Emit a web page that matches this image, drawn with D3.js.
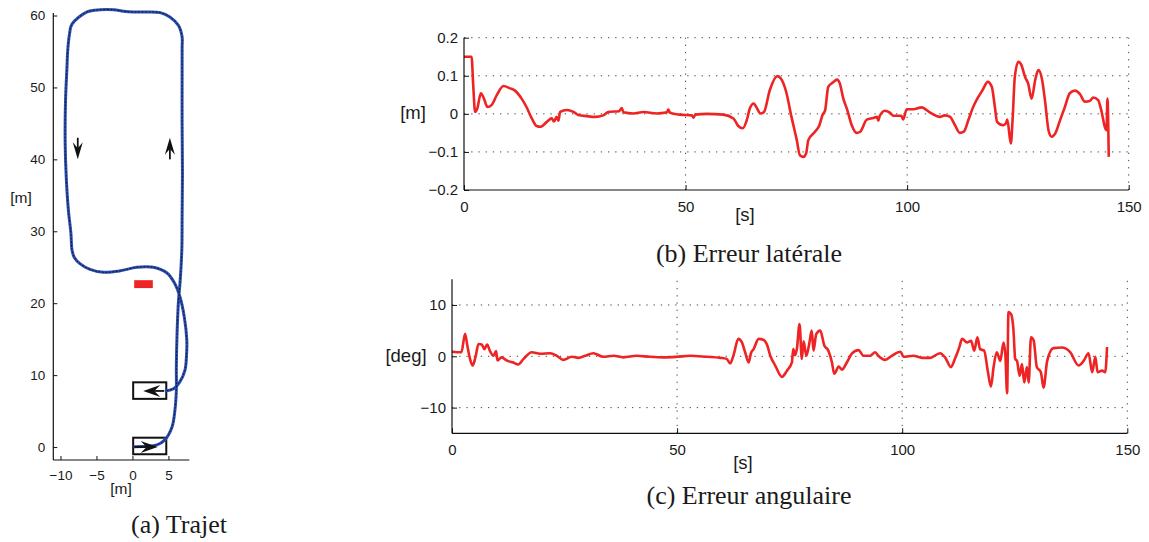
<!DOCTYPE html>
<html><head><meta charset="utf-8">
<script src="https://cdn.jsdelivr.net/npm/d3@7"></script>
<style>
html,body{margin:0;padding:0;background:#fff;}
svg{display:block;}
.tk{font-family:"Liberation Sans",Arial,sans-serif;fill:#1a1a1a;}
.cap{font-family:"Liberation Serif","Times New Roman",serif;fill:#1a1a1a;}
</style></head>
<body>
<svg id="c" width="1149" height="542"></svg>
<script>
// ---------- DATA ----------
// (a) trajectory [m]
const trajX = [0.14,3.4,4.5,5.5,5.9,6.1,6.1,6.2,6.4,6.6,6.86,6.9,6.95,6.9,6.9,6.9,6.9,6.4,5.2,3.85,2.0,0.1,-1.25,-2.6,-4.5,-6.3,-8.4,-8.75,-9.0,-9.1,-9.3,-9.35,-9.2,-8.9,-8.55,-8.4,-8.1,-7.3,-5.9,-4.0,-1.7,0.6,2.9,4.8,5.9,6.6,7.2,7.55,7.5,7.3,6.6,5.7,4.5];
const trajY = [0.05,0.3,1.0,2.8,5.1,7.9,11.2,15.8,20.4,22.7,27.4,32,38,45,52,55.6,57,58.6,59.8,60.4,60.5,60.5,60.6,60.8,60.8,60.5,58.8,57.4,55.1,52.8,48.2,42.2,37.5,32.9,29.7,27.4,26.4,25.5,24.7,24.3,24.5,25.0,25.0,24.2,22.7,20.9,18.1,14.9,12.5,10.7,9.1,8.1,7.8];
const trajXTicks = [-10,-5,0,5];
const trajYTicks = [0,10,20,30,40,50,60];
const boxes = [[0.1,-1.0,4.7,1.3],[0.1,6.7,4.7,9.0]];
const obstacle = [0.24,22.1,2.83,23.2];
// arrows: x0,y0,x1,y1 (tail -> tip)
const arrows = [[-7.6,43.0,-7.6,40.0],[5.2,40.0,5.2,43.0],[0.3,0,3.5,0],[4.4,7.8,1.5,7.8]];

// (b) lateral error [m] vs [s]
const latT = [0,1.7,2.1,2.5,3.0,3.8,4.5,5.3,6.2,7.4,8.9,10.4,11.5,13.0,14.1,15.3,16.4,17.3,18.7,19.8,20.3,20.9,21.3,21.7,23.2,24.7,25.8,27.7,29.6,31.4,32.6,35.0,35.6,36.0,38.2,40.5,43.5,45.8,46.1,46.5,48.7,51.4,51.8,52.2,54.8,58.5,60.8,61.9,62.9,63.8,64.5,65.4,66.0,66.9,67.7,69.0,70.7,71.5,72.7,73.9,75.1,75.8,76.6,77.2,77.7,79.2,80.2,80.9,81.5,82.2,83.2,84.2,84.8,85.6,86.5,87.5,88.6,89.4,90.9,92.4,93.2,93.5,93.8,95.0,96.1,96.9,98.7,99.1,99.9,101.4,103.3,104.4,105.5,107.4,108.5,109.7,110.8,111.9,112.8,113.8,114.9,116.0,117.0,118.2,119.1,119.8,120.3,121.7,122.3,122.6,123.4,123.8,124.3,125.1,125.8,126.6,127.3,128.1,128.9,129.6,130.4,131.1,131.9,132.6,133.4,134.5,135.6,136.7,137.9,139.0,140.1,141.2,142.0,143.1,143.9,144.6,145.0,145.2,145.5];
const latV = [0.15,0.15,0.071,0.005,0.014,0.054,0.04,0.018,0.023,0.049,0.073,0.067,0.061,0.04,0.018,-0.012,-0.032,-0.034,-0.021,-0.012,-0.02,-0.008,-0.018,0.005,0.01,0.005,-0.003,-0.006,-0.008,-0.004,0.005,0.007,0.015,0.004,0.001,0.005,0.001,0.004,0.011,0.003,-0.002,-0.004,-0.01,-0.002,0.0,-0.002,-0.012,-0.032,-0.038,-0.017,0.014,0.027,0.017,0.001,0.005,0.062,0.099,0.093,0.058,-0.008,-0.069,-0.109,-0.113,-0.104,-0.069,-0.047,-0.030,-0.003,0.010,0.071,0.082,0.09,0.08,0.04,0.01,-0.03,-0.05,-0.047,-0.015,-0.011,-0.008,-0.018,-0.006,0.008,0.003,-0.005,-0.005,-0.015,0.012,0.012,0.017,0.01,0.001,-0.008,-0.004,-0.008,-0.03,-0.05,-0.047,-0.017,0.018,0.043,0.062,0.084,0.071,0.018,-0.021,-0.03,-0.025,-0.015,-0.078,-0.015,0.097,0.137,0.128,0.097,0.08,0.04,0.089,0.115,0.093,0.036,-0.043,-0.06,-0.052,-0.017,0.018,0.054,0.061,0.052,0.032,0.034,0.043,0.036,0.005,-0.034,-0.043,0.04,-0.113];
const latYTicks = [-0.2,-0.1,0,0.1,0.2];
const timeTicks = [0,50,100,150];

// (c) angular error [deg] vs [s]
const angT = [0,2.1,2.9,3.4,4.0,4.6,5.2,5.9,6.6,7.2,7.8,8.4,9.2,9.8,10.1,11.0,12.1,13.6,14.7,15.9,17.7,19.6,21.8,23.3,24.7,26.6,28.1,29.6,31.4,33.6,35.9,38.1,41.0,44.0,47.0,49.9,52.9,56.6,59.6,61.0,61.8,62.5,63.6,64.4,65.1,65.9,66.4,67.0,68.1,69.2,70.0,70.7,71.8,73.3,74.4,75.5,75.8,76.2,76.6,77.2,77.7,78.1,78.7,79.4,79.9,80.3,80.9,81.8,82.7,83.6,84.4,84.9,85.9,86.6,87.7,88.8,90.3,91.4,92.9,94.0,94.7,96.2,97.7,99.6,100.3,102.5,104.4,106.2,108.4,109.6,110.8,111.8,112.7,113.3,114.4,115.3,116.0,116.7,117.3,118.2,119.0,119.7,120.3,121.0,121.8,122.5,122.9,123.3,123.6,124.2,124.7,125.1,125.5,126.1,126.6,127.1,127.7,128.1,128.6,129.2,129.9,130.8,131.4,132.2,133.6,135.5,137.3,139.2,140.3,141.4,142.2,142.9,143.4,144.4,145.1,145.5];
const angV = [0.9,0.8,4.4,2.1,-0.5,-1.8,-0.2,2.4,2.3,1.4,2.3,1.1,0.1,1.0,-0.8,-0.2,-0.8,-1.2,-1.6,-0.5,0.8,0.5,0.6,0.1,-0.7,-0.1,-0.3,0.1,0.6,-0.1,0.1,-0.2,0.1,-0.1,-0.2,-0.1,0.1,-0.1,-0.3,-0.5,-1.4,0.1,3.4,2.7,0.8,-1.2,0.6,1.4,3.4,3.2,2.2,0.1,-1.8,-4.0,-2.8,-1.2,1.4,0.2,1.4,6.3,-0.5,2.9,0.1,2.7,5.0,1.1,4.3,5.0,2.1,1.1,-1.2,-3.4,-2.0,-2.6,-1.2,0.5,1.2,0.1,0.1,0.8,0.1,-0.7,0.1,0.9,-0.1,0.1,-0.3,-0.3,0.6,-0.3,-2.1,-0.3,1.8,3.4,2.7,3.0,1.1,3.7,1.4,1.1,-2.8,-5.9,-2.1,0.8,-0.9,2.7,0.5,-7.2,8.6,8.2,5.3,-0.5,-0.9,-3.8,-1.5,-5.1,-2.1,-5.1,3.7,3.1,-2.1,-3.1,-6.1,-0.9,1.6,1.7,0.8,-1.8,-0.9,0.6,-3.1,-0.1,-3.1,-2.8,-3.1,1.8];
const angYTicks = [-10,0,10];

// ---------- DRAW ----------
const svg = d3.select("#c");
const RED = "#ee2424";

function arrowHead(g, x0,y0,x1,y1, L, W){
  const a = Math.atan2(y1-y0, x1-x0);
  const c=Math.cos(a), s=Math.sin(a);
  const pt=(u,v)=>[x1 + u*c - v*s, y1 + u*s + v*c];
  const p=[pt(0,0),pt(-L,W),pt(-L*0.65,0),pt(-L,-W)];
  g.append("line").attr("x1",x0).attr("y1",y0).attr("x2",pt(-L*0.65,0)[0]).attr("y2",pt(-L*0.65,0)[1])
    .attr("stroke","#111").attr("stroke-width",1.8);
  g.append("path").attr("d","M"+p.map(d=>d.join(",")).join("L")+"Z").attr("fill","#111");
}

// ===== Panel (a) =====
{
  const x = d3.scaleLinear().domain([-11,7.9]).range([53.3,189.3]);
  const y = d3.scaleLinear().domain([-1.8,60]).range([460,15.5]);
  const g = svg.append("g");
  const ax = g.append("g").attr("transform","translate(0,460)")
    .call(d3.axisBottom(x).tickValues(trajXTicks).tickSize(-4).tickPadding(8).tickFormat(d=>d<0?"\u2212"+(-d):d));
  const ay = g.append("g").attr("transform","translate(53.3,0)")
    .call(d3.axisLeft(y).tickValues(trajYTicks).tickSize(-4).tickPadding(8));
  [ax,ay].forEach(a=>{
    a.select(".domain").attr("stroke","#111").attr("stroke-width",1.2).attr("d", a===ax?"M53.3,0H189.3":"M0,460V13");
    a.selectAll(".tick line").attr("stroke","#111");
    a.selectAll(".tick text").attr("class","tk").style("font-size","13.5px").attr("fill","#1a1a1a");
  });
  ax.selectAll(".tick text").attr("dy","0.9em");
  g.append("text").attr("class","tk").attr("x",121).attr("y",494).attr("text-anchor","middle").style("font-size","15.5px").text("[m]");
  g.append("text").attr("class","tk").attr("x",21).attr("y",203).attr("text-anchor","middle").style("font-size","15.5px").text("[m]");

  g.append("rect").attr("x",x(obstacle[0])).attr("y",y(obstacle[3]))
    .attr("width",x(obstacle[2])-x(obstacle[0])).attr("height",y(obstacle[1])-y(obstacle[3])).attr("fill",RED);
  boxes.forEach(b=>g.append("rect").attr("x",x(b[0])).attr("y",y(b[3]))
    .attr("width",x(b[2])-x(b[0])).attr("height",y(b[1])-y(b[3]))
    .attr("fill","none").attr("stroke","#111").attr("stroke-width",2));
  const pts = trajX.map((d,i)=>[d,trajY[i]]);
  const line = d3.line().x(d=>x(d[0])).y(d=>y(d[1])).curve(d3.curveCatmullRom.alpha(0.5));
  g.append("path").attr("d",line(pts)).attr("fill","none").attr("stroke","#2d4fb0").attr("stroke-width",3);
  g.append("path").attr("d",line(pts)).attr("fill","none").attr("stroke","#10183a").attr("stroke-width",1).attr("stroke-dasharray","2,1.5");
  arrows.forEach((a,i)=>arrowHead(g, x(a[0]),y(a[1]),x(a[2]),y(a[3]), 17, i<2?5:6));

  g.append("text").attr("class","cap").attr("x",179).attr("y",533).attr("text-anchor","middle").style("font-size","26px").text("(a) Trajet");
}

// ===== time-series panels =====
function panel(opt){
  const x = d3.scaleLinear().domain([0,150]).range([opt.x0,opt.x1]);
  const y = d3.scaleLinear().domain(opt.ydom).range([opt.yb,opt.yt]);
  const g = svg.append("g");
  const gridStyle = s=>s.attr("stroke","#444").attr("stroke-width",1).attr("stroke-dasharray","1.3,5.9");
  opt.yticks.filter(v=>v!==opt.ydom[0]).forEach(v=>gridStyle(g.append("line").attr("x1",opt.x0).attr("x2",opt.x1).attr("y1",y(v)).attr("y2",y(v))));
  timeTicks.filter(v=>v!==0).forEach(v=>gridStyle(g.append("line").attr("x1",x(v)).attr("x2",x(v)).attr("y1",opt.yb).attr("y2",opt.yt)));
  const line = d3.line().x(d=>x(d[0])).y(d=>y(d[1])).curve(d3.curveMonotoneX);
  const pts = opt.t.map((d,i)=>[d,opt.v[i]]);
  g.append("path").attr("d",line(pts)).attr("fill","none").attr("stroke",RED).attr("stroke-width",2.6).attr("stroke-linejoin","round");
  const ax = g.append("g").attr("transform",`translate(0,${opt.yb})`)
    .call(d3.axisBottom(x).tickValues(timeTicks).tickSize(-5).tickPadding(9));
  const ay = g.append("g").attr("transform",`translate(${opt.x0},0)`)
    .call(d3.axisLeft(y).tickValues(opt.yticks).tickSize(-5).tickPadding(6).tickFormat(opt.fmt));
  ax.select(".domain").attr("d",`M${opt.x0},0H${opt.x1}`);
  ay.select(".domain").attr("d",`M0,${opt.yb}V${opt.yt}`);
  [ax,ay].forEach(a=>{
    a.select(".domain").attr("stroke","#111").attr("stroke-width",1.2);
    a.selectAll(".tick line").attr("stroke","#111");
    a.selectAll(".tick text").attr("class","tk").style("font-size","15px").attr("fill","#1a1a1a");
  });
  ax.selectAll(".tick text").attr("dy","0.85em");
  g.append("text").attr("class","tk").attr("x",opt.sx).attr("y",opt.sy).attr("text-anchor","middle").style("font-size","18.5px").text("[s]");
  g.append("text").attr("class","tk").attr("x",opt.lx).attr("y",opt.ly).attr("text-anchor","middle").style("font-size","18.5px").text(opt.ylabel);
  g.append("text").attr("class","cap").attr("x",opt.cx).attr("y",opt.cy).attr("text-anchor","middle").style("font-size","26px").text(opt.caption);
}
const minus = d=> d<0 ? "\u2212"+String(-d) : String(d);
panel({x0:464,x1:1128.7,yb:190,yt:37.7,ydom:[-0.2,0.2],yticks:latYTicks,t:latT,v:latV,
  fmt:d=> d===0 ? "0" : minus(+d.toFixed(1)).replace(/^(\u2212?)0?\./,"$10."),
  sx:745,sy:221,lx:413,ly:119,ylabel:"[m]",cx:749,cy:262,caption:"(b) Erreur latérale"});
panel({x0:452,x1:1127.3,yb:433.3,yt:279.3,ydom:[-15,15],yticks:angYTicks,t:angT,v:angV,
  fmt:d=>minus(d),
  sx:743,sy:469,lx:406,ly:362,ylabel:"[deg]",cx:749,cy:504,caption:"(c) Erreur angulaire"});
</script>
</body></html>
